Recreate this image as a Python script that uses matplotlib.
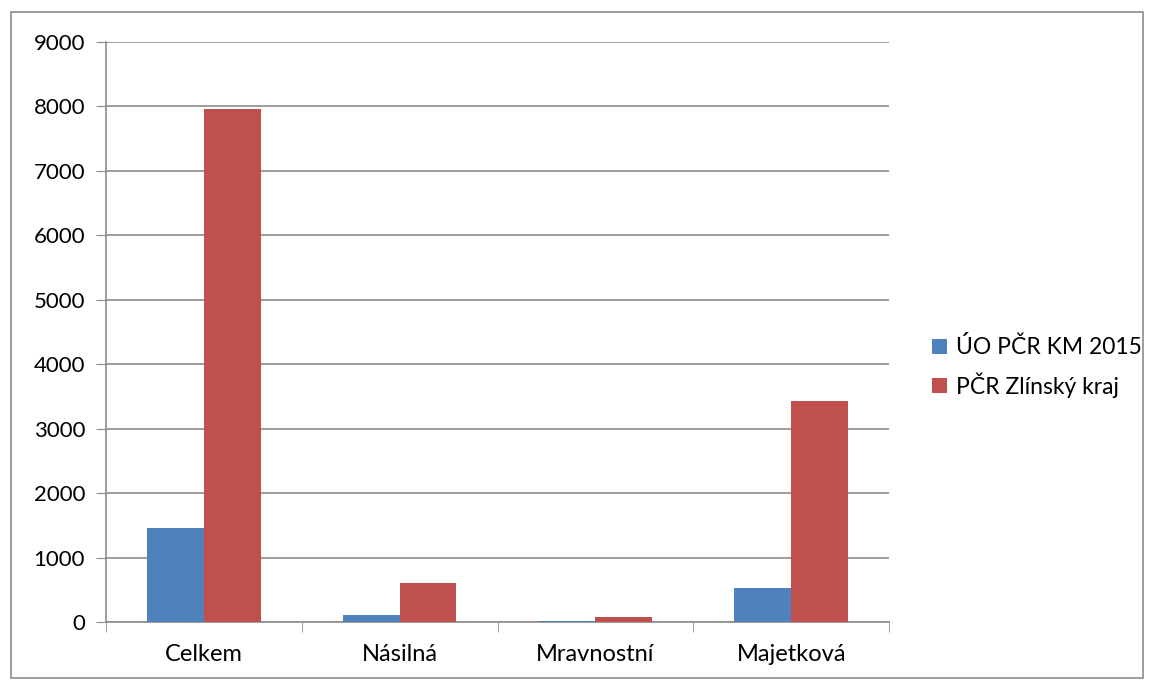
import matplotlib.pyplot as plt
import numpy as np
from matplotlib.patches import Rectangle

categories = ["Celkem", "Násilná", "Mravnostní", "Majetková"]
uo_km_2015 = [1460, 115, 15, 520]
zlinsky_kraj = [7955, 605, 70, 3435]
series_names = ["ÚO PČR KM 2015", "PČR Zlínský kraj"]

plt.rcParams['font.family'] = ['Lato', 'DejaVu Sans']

fig = plt.figure(figsize=(11.54, 6.8), dpi=100)
ax = fig.add_axes([106 / 1154, 1 - 622 / 680, 783 / 1154, 580 / 680])

x = np.arange(len(categories))
w = 0.29
ax.bar(x - w / 2, uo_km_2015, w, color="#4F81BD", label=series_names[0], zorder=3)
ax.bar(x + w / 2, zlinsky_kraj, w, color="#C0504D", label=series_names[1], zorder=3)

ax.set_xlim(-0.5, len(categories) - 0.5)
ax.set_ylim(0, 9000)
ax.set_yticks(range(0, 9001, 1000))
ax.set_xticks(x)
ax.set_xticklabels(categories)
ax.set_xticks(np.arange(-0.5, len(categories), 1), minor=True)
ax.tick_params(axis='x', which='major', length=0, pad=16, labelsize=17)
ax.tick_params(axis='x', which='minor', length=7, color="#8c8c8c", direction='out')
ax.tick_params(axis='y', length=7, color="#8c8c8c", labelsize=16, pad=8)
ax.yaxis.grid(True, color="#8c8c8c", linewidth=1.2, zorder=0)
for side in ["top", "right"]:
    ax.spines[side].set_visible(False)
for side in ["left", "bottom"]:
    ax.spines[side].set_color("#8c8c8c")
    ax.spines[side].set_linewidth(1.2)

fig.legend(loc="center left", bbox_to_anchor=(911 / 1154, 1 - 367 / 680), frameon=False,
           fontsize=16.5, handlelength=0.65, handleheight=0.65, handletextpad=0.4, labelspacing=0.6)

fig.patches.append(Rectangle((11 / 1154, 2 / 680), 1132 / 1154, 666 / 680, transform=fig.transFigure,
                             fill=False, edgecolor="#8c8c8c", linewidth=1.2))

fig.savefig("out.png", dpi=100)
